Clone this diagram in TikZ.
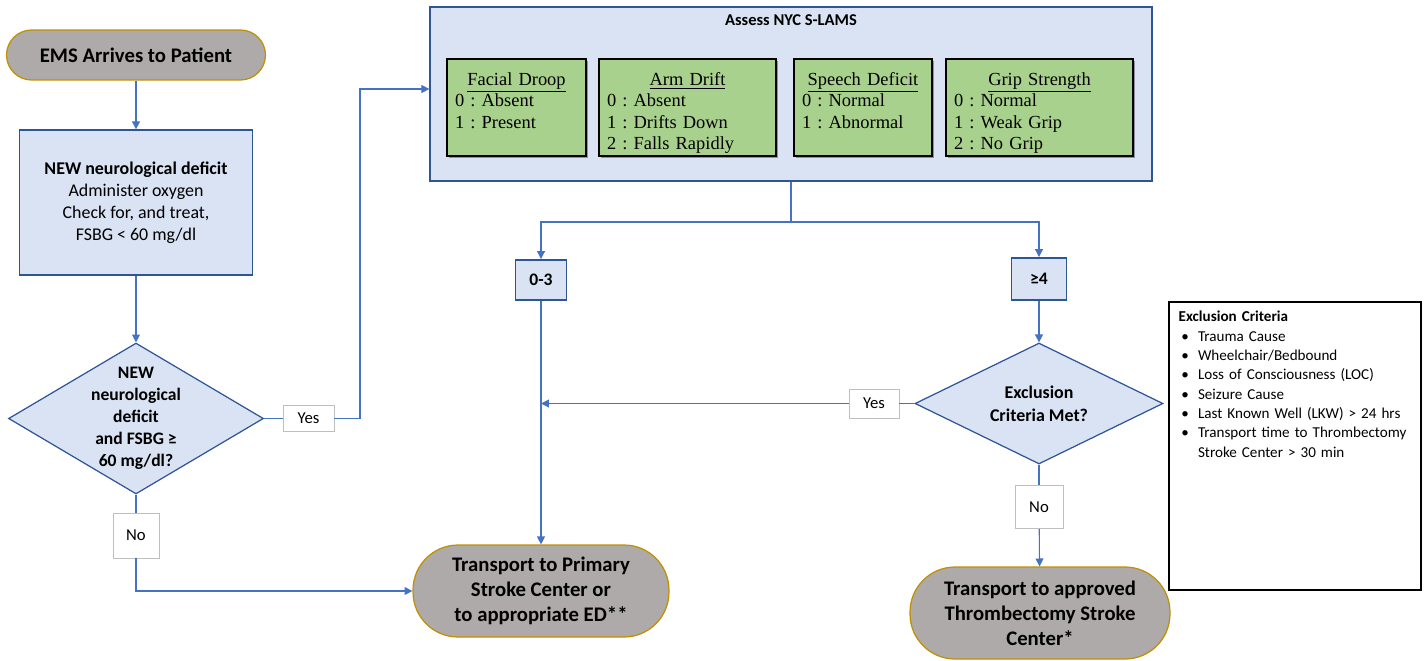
\documentclass[tikz,border=0pt]{standalone}
\usepackage{fontspec}
\setmainfont{Carlito}
\newfontfamily\scorefont{Liberation Serif}
\usetikzlibrary{shapes.geometric,arrows.meta,shadows}
\frenchspacing

\definecolor{boxblue}{HTML}{DAE3F3}
\definecolor{edgeblue}{HTML}{2F5597}
\definecolor{lineblue}{HTML}{4472C4}
\definecolor{termgray}{HTML}{AEAAAA}
\definecolor{termgold}{HTML}{BF9000}
\definecolor{scoregreen}{HTML}{A9D18E}
\definecolor{labelgray}{HTML}{BFBFBF}

\newcommand{\crit}[1]{\par\hangindent=11pt\hangafter=1\noindent\makebox[11pt][l]{\hspace{1.5pt}\textbullet}#1}
\newcommand{\critend}{\par}
\newcommand{\scoretitle}[1]{{\centering\rule{0pt}{15pt}\underline{#1}\par}}

\tikzset{
  terminal/.style={draw=termgold,fill=termgray,line width=0.7pt,rounded corners=#1,align=center,inner sep=0pt,font=\fontsize{11.8}{14.2}\selectfont\bfseries},
  process/.style={draw=edgeblue,fill=boxblue,line width=0.8pt,align=center,inner sep=0pt},
  decision/.style={diamond,draw=edgeblue,fill=boxblue,line width=0.7pt,inner sep=0pt},
  dectext/.style={align=center,inner sep=0pt,font=\fontsize{10}{12.5}\selectfont\bfseries},
  answer/.style={draw=labelgray,fill=white,line width=0.5pt,inner sep=0pt,font=\fontsize{9.5}{11}\selectfont},
  score/.style={draw=black,fill=scoregreen,line width=0.7pt,inner xsep=0.16cm,inner ysep=0pt,minimum height=1.9cm,text width=#1,align=left,font=\scorefont\fontsize{10.5}{12.2}\selectfont,drop shadow={shadow xshift=1.2pt,shadow yshift=-1.2pt,opacity=0.35,fill=black}},
  link/.style={draw=lineblue,line width=0.6pt},
  flow/.style={link,-{Triangle[length=4.5pt,width=4.5pt]}}
}

\begin{document}
\begin{tikzpicture}[x=0.02cm,y=-0.02cm]
\useasboundingbox (0,0) rectangle (1426,660);

\node[terminal=0.5cm,minimum width=5.18cm,minimum height=1cm] (start) at (136,55) {EMS Arrives to Patient};
\node[process,minimum width=4.66cm,minimum height=2.9cm,font=\fontsize{10.2}{12.5}\selectfont] (neuro) at (136,202.5) {\textbf{NEW neurological deficit}\\Administer oxygen\\Check for, and treat,\\FSBG < 60 mg/dl};
\node[decision,minimum width=5.1cm,minimum height=3.02cm,label={[dectext]center:{NEW\\neurological\\deficit\\and FSBG ≥\\60 mg/dl?}}] (check) at (136,418.5) {};
\node[answer,minimum width=1.02cm,minimum height=0.52cm] (yes1) at (308.5,418.5) {Yes};
\node[answer,minimum width=0.92cm,minimum height=0.9cm] (no1) at (136,535.5) {No};

\node[process,minimum width=14.44cm,minimum height=3.48cm,label={[anchor=north,yshift=-0.17cm,inner sep=0pt,font=\fontsize{9.4}{11}\selectfont\bfseries]north:{Assess NYC S-LAMS}}] (slams) at (791,94) {};
\node[score=2.46cm] (facial) at (516.5,107.5) {\scoretitle{Facial Droop}0 : Absent\\1 : Present\\\strut};
\node[score=3.22cm] (arm) at (687.5,107.5) {\scoretitle{Arm Drift}0 : Absent\\1 : Drifts Down\\2 : Falls Rapidly\strut};
\node[score=2.44cm] (speech) at (863,107.5) {\scoretitle{Speech Deficit}0 : Normal\\1 : Abnormal\\\strut};
\node[score=3.42cm] (grip) at (1039.5,107.5) {\scoretitle{Grip Strength}0 : Normal\\1 : Weak Grip\\2 : No Grip\strut};

\node[process,line width=1.1pt,minimum width=1.02cm,minimum height=0.8cm,font=\fontsize{10}{12}\selectfont\bfseries] (low) at (541,280) {0-3};
\node[process,line width=1.1pt,minimum width=1.1cm,minimum height=0.84cm,font=\fontsize{10}{12}\selectfont\bfseries] (high) at (1039,279) {≥4};
\node[decision,minimum width=4.96cm,minimum height=2.42cm,label={[dectext,font=\fontsize{10.2}{13}\selectfont\bfseries]center:{Exclusion\\Criteria Met?}}] (excl) at (1039,403.5) {};
\node[answer,minimum width=1cm,minimum height=0.58cm] (yes2) at (874,403.5) {Yes};
\node[answer,minimum width=0.96cm,minimum height=0.86cm] (no2) at (1039,507) {No};

\node[terminal=0.9cm,minimum width=5.12cm,minimum height=1.84cm] (primary) at (541,591) {Transport to Primary\\Stroke Center or\\to appropriate ED**};
\node[terminal=0.9cm,minimum width=5.2cm,minimum height=1.84cm] (thromb) at (1040,613) {Transport to approved\\Thrombectomy Stroke\\Center*};

\node[draw=black,line width=0.8pt,minimum width=5.04cm,minimum height=5.76cm,label={[anchor=north west,xshift=0.2cm,yshift=-0.19cm,inner sep=0pt,text width=4.8cm,align=left,font=\fontsize{8.6}{11}\selectfont]north west:{\textbf{Exclusion Criteria}\crit{Trauma Cause}\crit{Wheelchair/Bedbound}\crit{Loss of Consciousness (LOC)}\crit{Seizure Cause}\crit{Last Known Well (LKW) > 24 hrs}\crit{Transport time to Thrombectomy\newline Stroke Center > 30 min}\critend}}] (criteria) at (1295,446) {};

\coordinate (yesbend) at (360,89);
\coordinate (split) at (791,222);
\draw[flow] (start) -- (neuro);
\draw[flow] (neuro) -- (check);
\draw[link] (check.east) -- (yes1);
\draw[flow] (yes1.east) -| (yesbend) -- (yesbend -| slams.west);
\draw[link] (check) -- (no1);
\draw[flow] (no1) |- (primary);
\draw[link] (slams) -- (split);
\draw[flow] (split) -| (low);
\draw[flow] (split) -| (high);
\draw[flow] (low) -- (primary);
\draw[flow] (high) -- (excl);
\draw[link] (excl) -- (yes2);
\draw[flow] (yes2) -- (yes2 -| low);
\draw[link] (excl) -- (no2);
\draw[flow] (no2) -- (thromb);
\end{tikzpicture}
\end{document}
